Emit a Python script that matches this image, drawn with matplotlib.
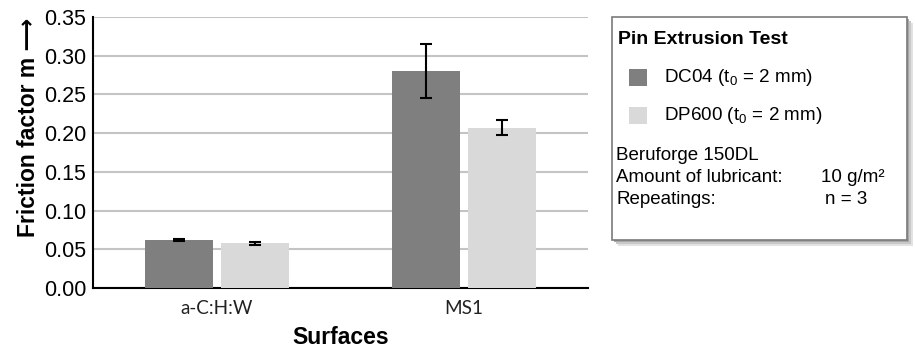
import numpy as np
import matplotlib
matplotlib.use("Agg")
import matplotlib.pyplot as plt
import matplotlib.patches as mpatches

plt.rcParams['font.family'] = ['Liberation Sans', 'DejaVu Sans']
plt.rcParams['mathtext.default'] = 'regular'

# data
surfaces = ["a-C:H:W", "MS1"]
series = ["DC04 (t$_0$ = 2 mm)", "DP600 (t$_0$ = 2 mm)"]
dc04 = [0.062, 0.280]
dc04_err = [0.001, 0.035]
dp600 = [0.058, 0.207]
dp600_err = [0.002, 0.010]
yticks = [0.00, 0.05, 0.10, 0.15, 0.20, 0.25, 0.30, 0.35]

C_DARK = "#7f7f7f"
C_LIGHT = "#d9d9d9"

W, H = 915, 349
fig = plt.figure(figsize=(W/100, H/100), dpi=100)
ax = fig.add_axes([93/W, 1 - 288/H, (588-93)/W, (288-17)/H])

x = np.arange(len(surfaces))
bw = 0.275
gap = 0.016
ax.bar(x - bw/2 - gap, dc04, width=bw, color=C_DARK, zorder=3)
ax.bar(x + bw/2 + gap, dp600, width=bw, color=C_LIGHT, zorder=3)
ax.errorbar(x - bw/2 - gap, dc04, yerr=dc04_err, fmt="none", ecolor="black",
            capsize=4.3, capthick=1.5, lw=1.5, zorder=4)
ax.errorbar(x + bw/2 + gap, dp600, yerr=dp600_err, fmt="none", ecolor="black",
            capsize=4, capthick=1.5, lw=1.5, zorder=4)

ax.set_xlim(-0.5, 1.5)
ax.set_ylim(0, 0.35)
ax.set_yticks(yticks)
ax.set_yticklabels([f"{v:.2f}" for v in yticks], fontsize=15.5)
ax.set_xticks(x)
ax.set_xticklabels(surfaces, fontsize=13.6, family=["Lato", "DejaVu Sans"], color="#222222")
ax.tick_params(axis="y", length=0, pad=5)
ax.tick_params(axis="x", length=0, pad=9)
ax.yaxis.grid(True, color="#c4c4c4", lw=1.5, zorder=0)
ax.set_axisbelow(True)
for s in ["top", "right"]:
    ax.spines[s].set_visible(False)
ax.spines["left"].set_linewidth(1.5)
ax.spines["bottom"].set_linewidth(1.5)

fig.text(29/W, 1 - 127/H, "Friction factor m \u27f6", rotation=90, ha="center",
         va="center", fontsize=16.5, fontweight="bold",
         family=["Liberation Sans", "DejaVu Sans"])
fig.text(341/W, 1 - 338/H, "Surfaces", ha="center", va="center",
         fontsize=16.5, fontweight="bold")

# legend box with shadow
bx0, by0, bx1, by1 = 612, 17, 907, 240
for off, c in [(6, "#e2e2e2"), (4, "#c8c8c8"), (2, "#a8a8a8")]:
    fig.patches.append(mpatches.Rectangle((bx0/W + off/W, 1 - by1/H - off/H),
                                          (bx1-bx0)/W, (by1-by0)/H,
                                          transform=fig.transFigure, facecolor=c,
                                          edgecolor="none", zorder=1))
fig.patches.append(mpatches.Rectangle((bx0/W, 1 - by1/H), (bx1-bx0)/W, (by1-by0)/H,
                                      transform=fig.transFigure, facecolor="white",
                                      edgecolor="#7a7a7a", lw=1.2, zorder=2))

fig.text(618/W, 1 - 40/H, "Pin Extrusion Test", ha="left", va="center",
         fontsize=14, fontweight="bold", zorder=3)
for yy, col, lab in [(78, C_DARK, series[0]), (116, C_LIGHT, series[1])]:
    fig.patches.append(mpatches.Rectangle((629/W, 1 - (yy+8)/H), 18/W, 17/H,
                                          transform=fig.transFigure, facecolor=col,
                                          edgecolor="none", zorder=3))
    fig.text(664/W, 1 - yy/H, lab, ha="left", va="center", fontsize=13.6, zorder=3)

fig.text(616/W, 1 - 156/H, "Beruforge 150DL", ha="left", va="center", fontsize=13.5, zorder=3)
fig.text(616/W, 1 - 178/H, "Amount of lubricant:", ha="left", va="center", fontsize=13.5, zorder=3)
fig.text(821/W, 1 - 178/H, "10 g/m\u00b2", ha="left", va="center", fontsize=13.5, zorder=3)
fig.text(616/W, 1 - 200/H, "Repeatings:", ha="left", va="center", fontsize=13.5, zorder=3)
fig.text(825/W, 1 - 200/H, "n = 3", ha="left", va="center", fontsize=13.5, zorder=3)

fig.savefig("out.png", dpi=100)
